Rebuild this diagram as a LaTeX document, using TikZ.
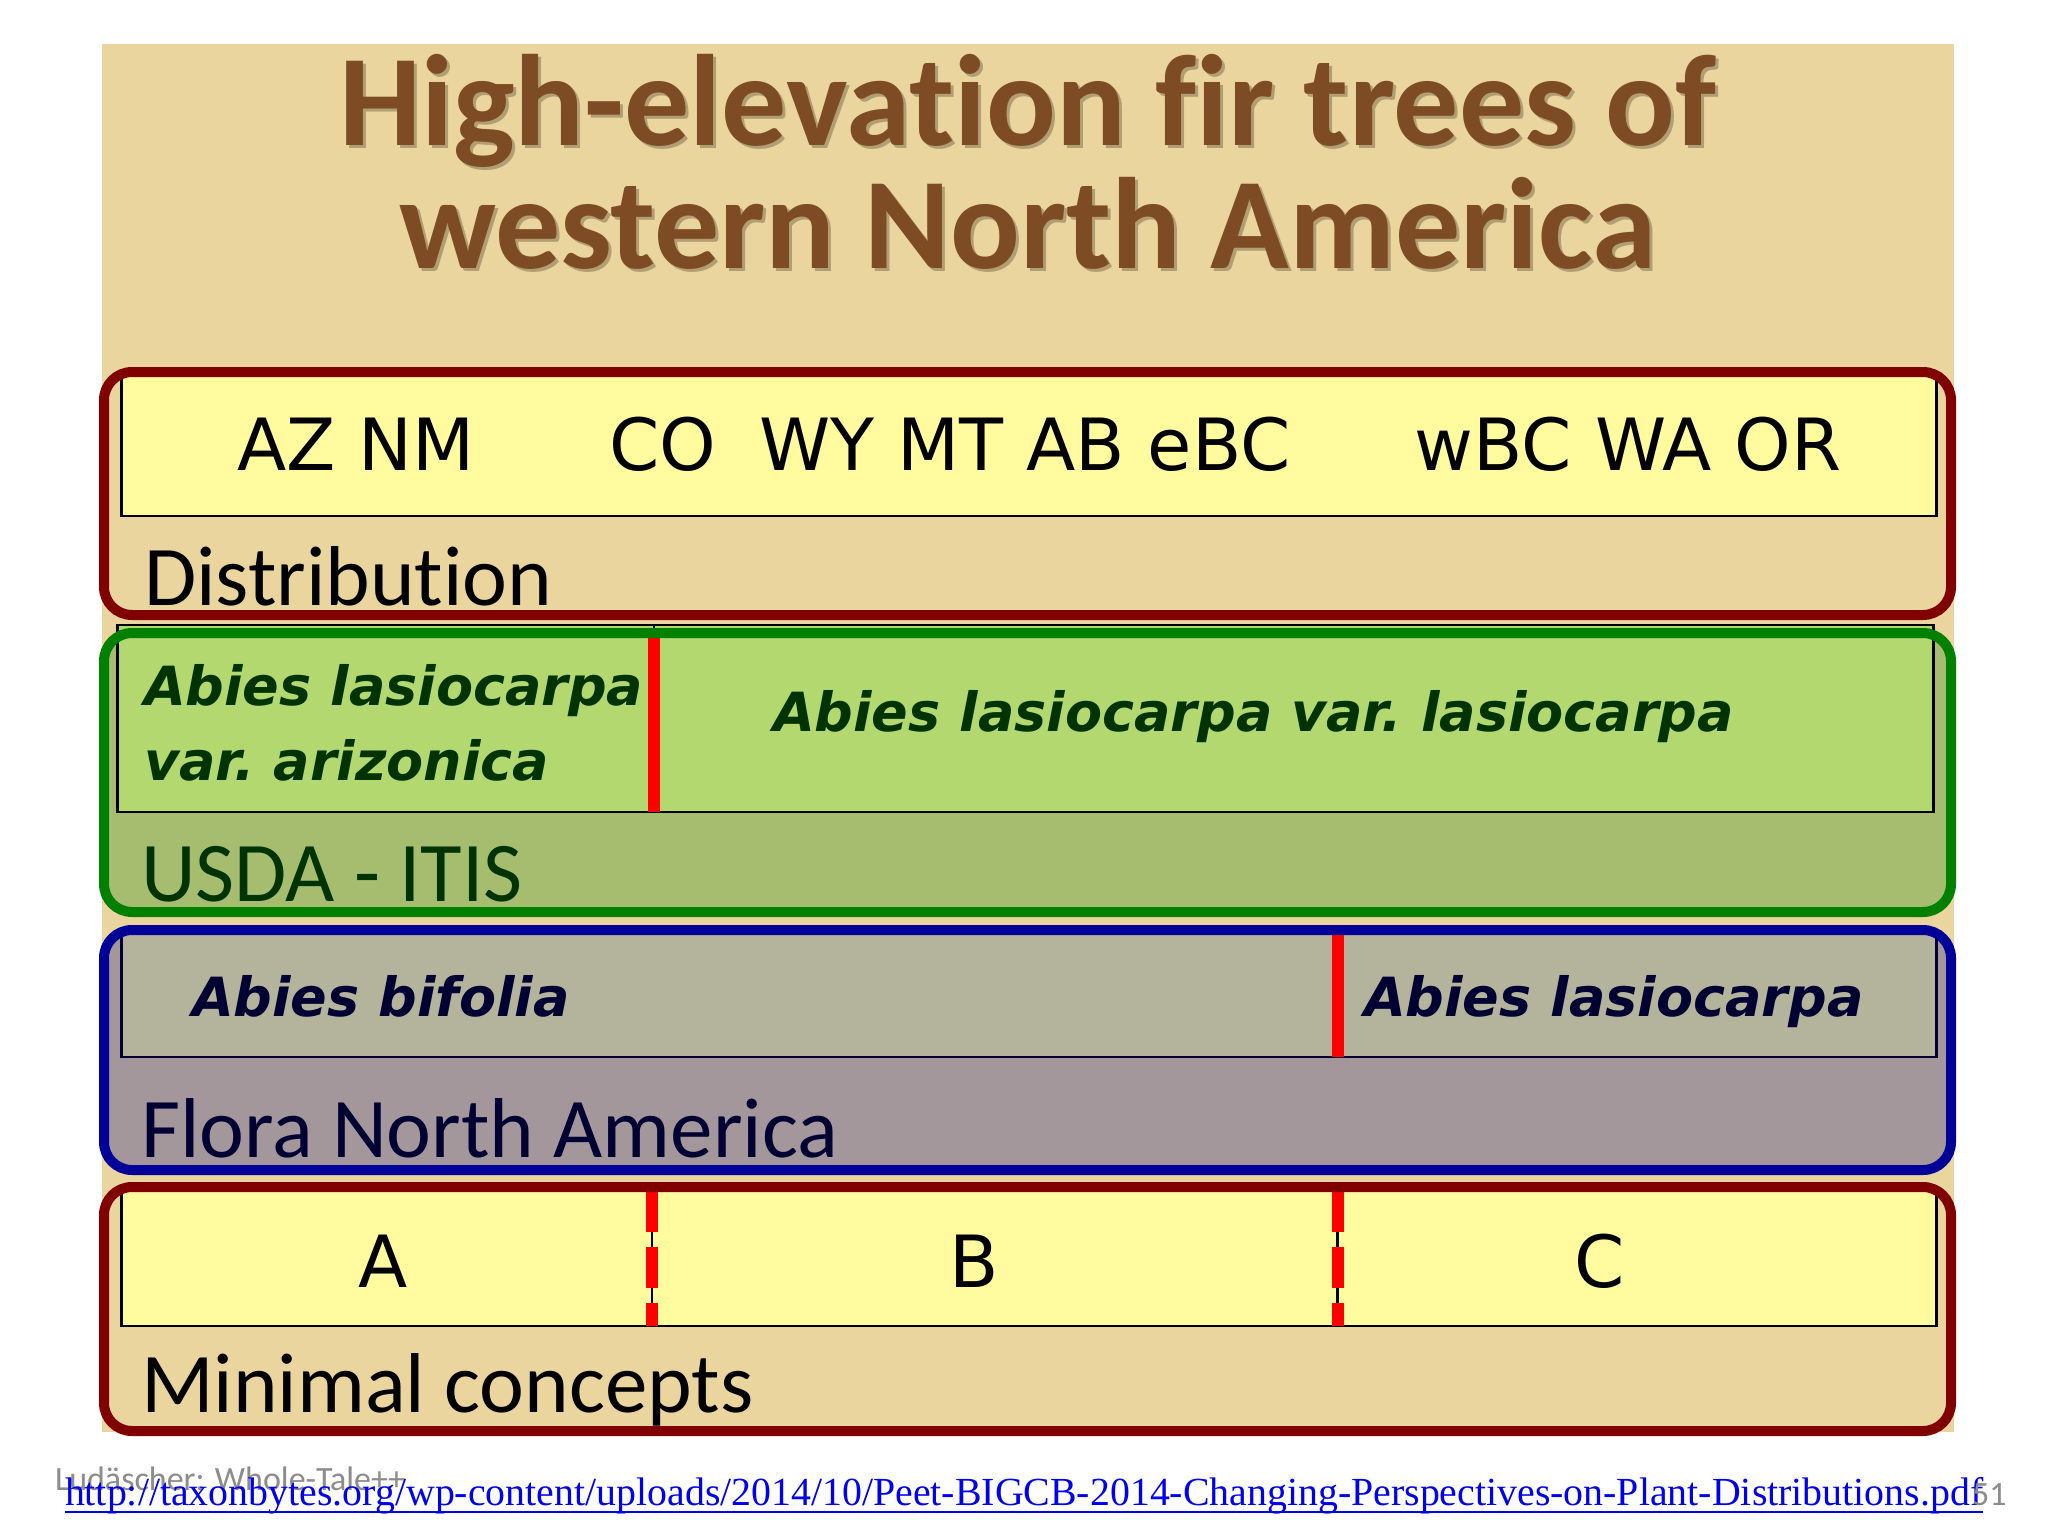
\documentclass[tikz,border=0pt]{standalone}
\usepackage{fontspec}
\usepackage{graphicx}
\setmainfont{Carlito}[Ligatures=CommonOff]
\newfontfamily\comicf{DejaVu Sans}
\newfontfamily\urlf{Liberation Serif}
\usetikzlibrary{calc}
\definecolor{tanbg}{HTML}{EAD59F}
\definecolor{paleyel}{HTML}{FFFB9E}
\definecolor{dred}{HTML}{800000}
\definecolor{dgreen}{HTML}{008000}
\definecolor{olivefill}{HTML}{A6BD70}
\definecolor{lgreen}{HTML}{B2D86F}
\definecolor{dblue}{HTML}{000099}
\definecolor{mauve}{HTML}{A4979B}
\definecolor{greyolive}{HTML}{B3B49B}
\definecolor{txgreen}{HTML}{003300}
\definecolor{txnavy}{HTML}{000033}
\definecolor{brtitle}{HTML}{7E4C24}
\definecolor{shadowc}{HTML}{4A3A22}
\definecolor{urlblue}{HTML}{0000EE}
\definecolor{footgrey}{HTML}{8C8C8C}
\newcommand\titlefnt{\fontsize{130}{150}\selectfont\bfseries}
\newcommand\labfnt{\fontsize{85}{100}\selectfont}
\newcommand\regfnt{\comicf\fontsize{72}{86}\selectfont}
\newcommand\spfnt{\comicf\fontsize{54}{66}\selectfont\bfseries\itshape}
\newcommand\footfnt{\fontsize{34}{40}\selectfont}
\tikzset{
  panel/.style={inner sep=0pt, outer sep=0pt, anchor=north west, rounded corners=28pt},
  rim/.style={line width=10pt, rounded corners=28pt},
  strip/.style={inner sep=0pt, outer sep=0pt, anchor=north west, line width=2.5pt},
  txt/.style={inner sep=0pt, outer sep=0pt},
  cut/.style={red, line width=12pt},
  dcut/.style={red, line width=12pt, dash pattern=on 41.5pt off 15pt},
  thin/.style={black, line width=2.5pt}
}
\begin{document}
\begin{tikzpicture}[x=1pt,y=-1pt]
\useasboundingbox (0,0) rectangle (2048,1536);
\fill[white] (0,0) rectangle (2048,1536);
\node[inner sep=0pt, anchor=north west, fill=tanbg, minimum width=1852pt, minimum height=1388pt] (bg) at (102,44) {};

% title
\node[txt, anchor=base, text=shadowc, opacity=0.35, font=\titlefnt] (t1s) at (1031,149) {High-elevation fir trees of};
\node[txt, anchor=base, text=shadowc, opacity=0.35, font=\titlefnt] (t2s) at (1031,271) {western North America};
\node[txt, anchor=base, text=brtitle, font=\titlefnt] (t1) at (1028,146) {High-elevation fir trees of};
\node[txt, anchor=base, text=brtitle, font=\titlefnt] (t2) at (1028,268) {western North America};

% ---- Box 1: Distribution
\node[panel, fill=tanbg, minimum width=1847pt, minimum height=243pt] (b1) at (104,372) {};
\node[strip, draw=black, fill=paleyel, minimum width=1815pt, minimum height=140pt] (i1) at (121.5,376) {};
\node[txt, anchor=base, font=\regfnt] (azm) at (356,470) {AZ NM};
\node[txt, anchor=base, font=\regfnt] (co) at (663,470) {CO};
\node[txt, anchor=base, font=\regfnt] (wy) at (1025,470) {WY MT AB eBC};
\node[txt, anchor=base, font=\regfnt] (wbc) at (1628,470) {wBC WA OR};
\node[txt, anchor=base west, font=\labfnt] (l1) at (144,605) {Distribution};
\draw[rim, dred] (b1.north west) rectangle (b1.south east);

% ---- Box 2: USDA - ITIS
\node[panel, fill=olivefill, minimum width=1847pt, minimum height=279pt] (b2) at (104,633) {};
\node[strip, draw=black, fill=lgreen, minimum width=1816pt, minimum height=187pt] (i2) at (117.5,625) {};
\coordinate (c2t) at (654,625);
\coordinate (c2r) at (654,633);
\coordinate (c2b) at (654,812);
\draw[thin] (c2t) -- (c2b);
\draw[cut] (c2r) -- (c2b);
\node[txt, anchor=base west, font=\spfnt, text=txgreen] (s1) at (144,705) {Abies lasiocarpa};
\node[txt, anchor=base west, font=\spfnt, text=txgreen] (s2) at (144,780) {var.\ arizonica};
\node[txt, anchor=base west, font=\spfnt, text=txgreen] (s3) at (773,731) {Abies lasiocarpa var.\ lasiocarpa};
\node[txt, anchor=base west, font=\labfnt, text=txgreen] (l2) at (141,901) {USDA - ITIS};
\draw[rim, dgreen] (b2.north west) rectangle (b2.south east);

% ---- Box 3: Flora North America
\node[panel, fill=mauve, minimum width=1847pt, minimum height=240pt] (b3) at (104,930) {};
\node[strip, draw=txnavy, fill=greyolive, minimum width=1815pt, minimum height=126pt] (i3) at (121.5,931) {};
\coordinate (c3t) at (1337.5,931);
\coordinate (c3b) at (1337.5,1057);
\draw[cut] (c3t) -- (c3b);
\node[txt, anchor=base west, font=\spfnt, text=txnavy] (s4) at (192,1016) {Abies bifolia};
\node[txt, anchor=base west, font=\spfnt, text=txnavy] (s5) at (1364,1016) {Abies lasiocarpa};
\node[txt, anchor=base west, font=\labfnt, text=txnavy] (l3) at (141,1157) {Flora North America};
\draw[rim, dblue] (b3.north west) rectangle (b3.south east);

% ---- Box 4: Minimal concepts
\node[panel, fill=tanbg, minimum width=1847pt, minimum height=244pt] (b4) at (104,1187) {};
\node[strip, draw=black, fill=paleyel, minimum width=1815pt, minimum height=136pt] (i4) at (121.5,1190) {};
\coordinate (c4at) at (652,1190);
\coordinate (c4ab) at (652,1326);
\coordinate (c4bt) at (1337.5,1190);
\coordinate (c4bb) at (1337.5,1326);
\draw[thin] (c4at) -- (c4ab);
\draw[thin] (c4bt) -- (c4bb);
\draw[dcut] (c4at) -- (c4ab);
\draw[dcut] (c4bt) -- (c4bb);
\node[txt, anchor=base, font=\regfnt] (ca) at (383,1287) {A};
\node[txt, anchor=base, font=\regfnt] (cb) at (974,1287) {B};
\node[txt, anchor=base, font=\regfnt] (cc) at (1600,1287) {C};
\node[txt, anchor=base west, font=\labfnt] (l4) at (141,1412) {Minimal concepts};
\draw[rim, dred] (b4.north west) rectangle (b4.south east);

% ---- footer
\node[txt, anchor=base west, font=\footfnt, text=footgrey] (auth) at (55,1490) {Ludäscher: Whole-Tale++};
\node[txt, anchor=base west, text=urlblue] (url) at (65,1505) {\resizebox{1918pt}{!}{\urlf http://taxonbytes.org/wp-content/uploads/2014/10/Peet-BIGCB-2014-Changing-Perspectives-on-Plant-Distributions.pdf}};
\draw[urlblue, line width=2.5pt] ($(url.base west)+(0,7)$) -- ($(url.base east)+(0,7)$);
\node[txt, anchor=base west, font=\footfnt, text=footgrey] (pg) at (1972,1505) {51};
\end{tikzpicture}
\end{document}
